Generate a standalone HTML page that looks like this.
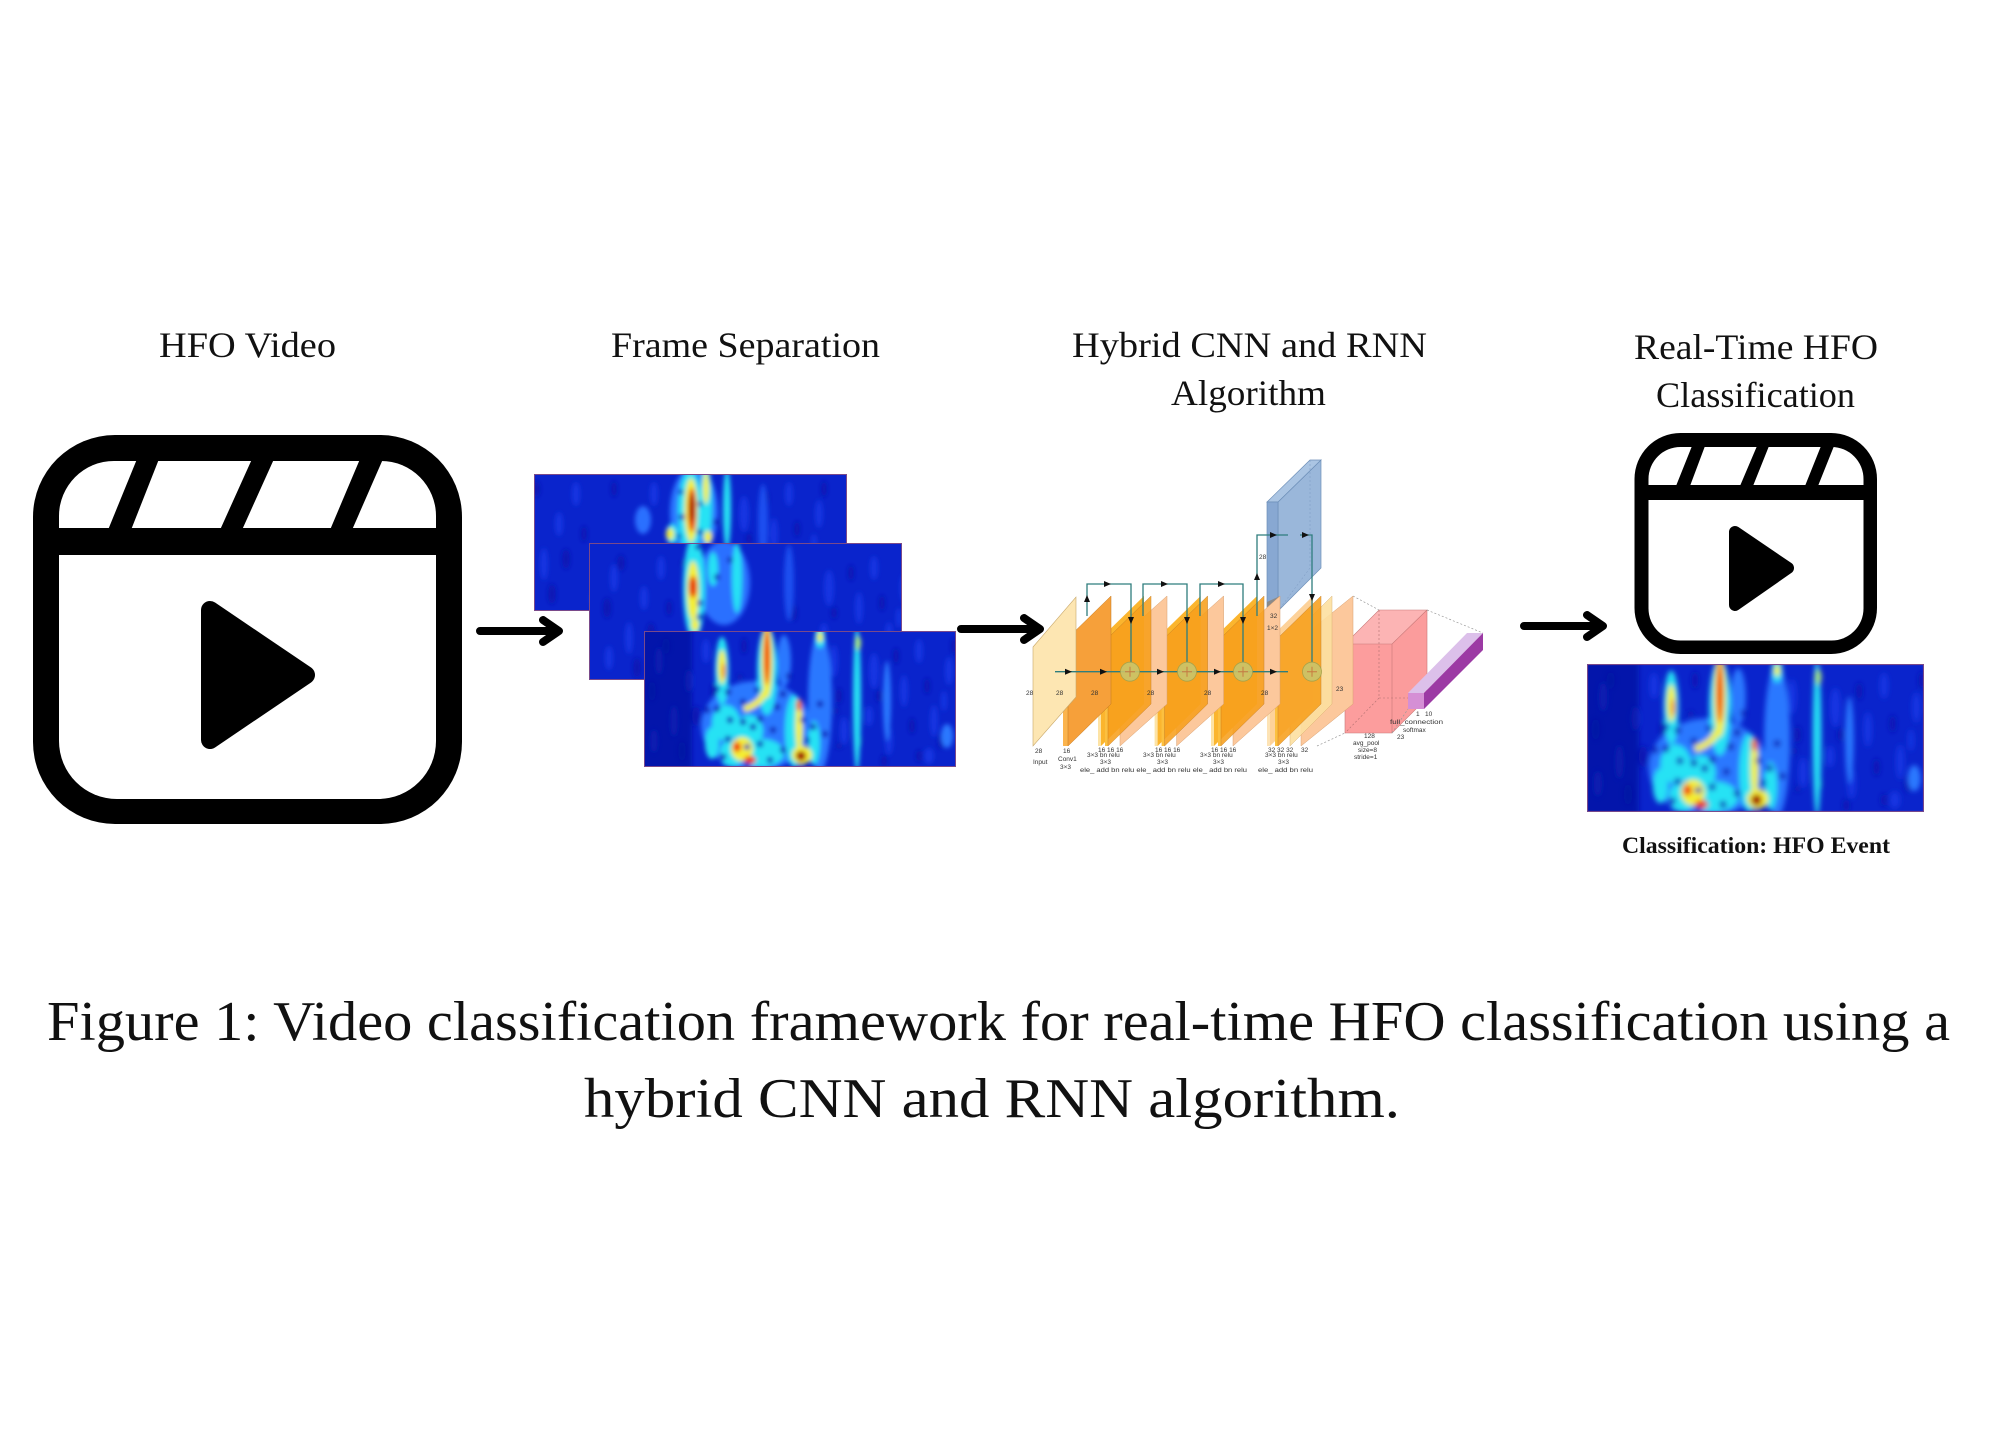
<!DOCTYPE html>
<html><head><meta charset="utf-8">
<style>html,body{margin:0;padding:0;background:#fff}svg{display:block}
.serif{font-family:"Liberation Serif",serif}
.sans{font-family:"Liberation Sans",sans-serif}
</style>
</head><body>
<svg width="2000" height="1454" viewBox="0 0 2000 1454" xmlns="http://www.w3.org/2000/svg" xmlns:xlink="http://www.w3.org/1999/xlink">
<defs>
  <filter id="bl" x="-20%" y="-20%" width="140%" height="140%"><feGaussianBlur stdDeviation="2.4"/></filter>
  <clipPath id="c3"><rect x="0" y="0" width="312" height="136"/></clipPath>
  <g id="tex">
    <g fill="#1436e2">
      <ellipse cx="15" cy="30" rx="4" ry="14"/><ellipse cx="30" cy="90" rx="4" ry="16"/><ellipse cx="45" cy="50" rx="4" ry="12"/>
      <ellipse cx="62" cy="20" rx="4" ry="12"/><ellipse cx="190" cy="30" rx="4" ry="16"/><ellipse cx="200" cy="100" rx="4" ry="14"/>
      <ellipse cx="230" cy="40" rx="5" ry="18"/><ellipse cx="245" cy="110" rx="4" ry="14"/><ellipse cx="260" cy="60" rx="4" ry="16"/>
      <ellipse cx="275" cy="20" rx="4" ry="12"/><ellipse cx="290" cy="90" rx="4" ry="16"/><ellipse cx="305" cy="40" rx="4" ry="14"/>
      <ellipse cx="10" cy="110" rx="4" ry="12"/><ellipse cx="225" cy="85" rx="4" ry="10"/><ellipse cx="285" cy="125" rx="5" ry="8"/>
      <ellipse cx="300" cy="70" rx="3" ry="10"/><ellipse cx="80" cy="125" rx="4" ry="10"/><ellipse cx="140" cy="20" rx="4" ry="12"/>
    </g>
    <g fill="#0818b4">
      <ellipse cx="8" cy="60" rx="4" ry="10"/><ellipse cx="22" cy="15" rx="4" ry="8"/><ellipse cx="38" cy="120" rx="4" ry="10"/>
      <ellipse cx="52" cy="85" rx="4" ry="10"/><ellipse cx="195" cy="65" rx="3" ry="8"/><ellipse cx="215" cy="110" rx="3" ry="6"/>
      <ellipse cx="235" cy="65" rx="3" ry="6"/><ellipse cx="252" cy="25" rx="3" ry="8"/><ellipse cx="268" cy="95" rx="3" ry="8"/>
      <ellipse cx="283" cy="55" rx="3" ry="8"/><ellipse cx="297" cy="110" rx="3" ry="8"/><ellipse cx="310" cy="15" rx="3" ry="8"/>
      <ellipse cx="240" cy="130" rx="3" ry="6"/><ellipse cx="275" cy="125" rx="3" ry="6"/><ellipse cx="100" cy="15" rx="3" ry="8"/>
      <ellipse cx="70" cy="60" rx="3" ry="8"/>
    </g>
  </g>
  <g id="s3">
    <g clip-path="url(#c3)">
      <rect width="312" height="136" fill="#0a24cc"/>
      <g filter="url(#bl)">
        <use xlink:href="#tex" href="#tex"/>
        <rect x="-10" y="-10" width="58" height="160" fill="#0312a0" opacity="0.75"/>
        <g fill="#2a78ff">
          <ellipse cx="112" cy="95" rx="55" ry="45"/>
          <ellipse cx="176" cy="70" rx="12" ry="70"/>
          <ellipse cx="140" cy="30" rx="7" ry="26"/>
          <ellipse cx="303" cy="105" rx="6" ry="12"/>
          <ellipse cx="243" cy="70" rx="4" ry="40"/>
        </g>
        <g fill="#26e2f4">
          <ellipse cx="78" cy="40" rx="7" ry="34"/>
          <ellipse cx="123" cy="40" rx="10" ry="44"/>
          <ellipse cx="82" cy="92" rx="14" ry="18"/>
          <ellipse cx="105" cy="100" rx="14" ry="16"/>
          <ellipse cx="118" cy="122" rx="22" ry="14"/>
          <ellipse cx="88" cy="122" rx="12" ry="14"/>
          <ellipse cx="150" cy="100" rx="9" ry="36"/>
          <ellipse cx="170" cy="112" rx="6" ry="22"/>
          <ellipse cx="213" cy="68" rx="4" ry="72"/>
          <ellipse cx="176" cy="6" rx="5" ry="11"/>
          <ellipse cx="68" cy="112" rx="7" ry="16"/>
        </g>
        <g fill="#f4f030">
          <ellipse cx="78" cy="36" rx="4" ry="17"/>
          <ellipse cx="123" cy="30" rx="5.5" ry="37"/>
          <ellipse cx="98" cy="118" rx="11" ry="12"/>
          <ellipse cx="155" cy="95" rx="3.5" ry="27"/>
          <ellipse cx="158" cy="124" rx="10" ry="9"/>
          <ellipse cx="176" cy="6" rx="3" ry="5"/>
        </g>
        <ellipse cx="214" cy="12" rx="3" ry="7" fill="#a8f080"/>
        <path d="M122 60 Q115 74 100 78" stroke="#f4f030" stroke-width="6" fill="none"/>
        <g fill="#f03010">
          <ellipse cx="123" cy="26" rx="3" ry="28"/>
          <ellipse cx="93" cy="116" rx="4" ry="5"/>
          <ellipse cx="106" cy="129" rx="6" ry="4"/>
          <ellipse cx="155" cy="74" rx="3" ry="6" fill="#f07010"/>
          <ellipse cx="80" cy="40" rx="2" ry="8" fill="#f08010"/>
        </g>
        <ellipse cx="157" cy="125" rx="5" ry="5" fill="#a00000"/>
        <g fill="#0a1cb8">
          <circle cx="84" cy="61" r="3.2"/><circle cx="99" cy="71" r="3.2"/><circle cx="73" cy="78" r="3.2"/>
          <circle cx="86" cy="89" r="3.2"/><circle cx="99" cy="91" r="3.2"/><circle cx="109" cy="96" r="3.2"/>
          <circle cx="116" cy="88" r="3.2"/><circle cx="63" cy="79" r="3.2"/><circle cx="84" cy="108" r="3.2"/>
          <circle cx="103" cy="116" r="3"/><circle cx="116" cy="113" r="3.2"/><circle cx="129" cy="99" r="3.2"/>
          <circle cx="133" cy="76" r="3.2"/><circle cx="139" cy="63" r="3.2"/><circle cx="159" cy="89" r="3"/>
          <circle cx="169" cy="96" r="3.2"/><circle cx="181" cy="103" r="3.2"/><circle cx="163" cy="109" r="3"/>
          <circle cx="139" cy="119" r="3.2"/><circle cx="126" cy="129" r="3.2"/><circle cx="103" cy="134" r="3"/>
          <circle cx="156" cy="136" r="3"/><circle cx="79" cy="126" r="3.2"/><circle cx="176" cy="73" r="3.2"/>
          <circle cx="73" cy="58" r="3"/><circle cx="113" cy="59" r="3"/><circle cx="96" cy="46" r="3"/>
          <circle cx="192" cy="80" r="3"/><circle cx="195" cy="115" r="3"/><circle cx="145" cy="45" r="3"/>
        </g>
      </g>
    </g>
    <rect x="0.5" y="0.5" width="311" height="135" fill="none" stroke="#7a4a8a" stroke-width="1"/>
  </g>
</defs>

<!-- ===== Titles ===== -->
<g class="serif" fill="#111" font-size="36">
  <text x="159" y="357" textLength="177" lengthAdjust="spacingAndGlyphs">HFO Video</text>
  <text x="611" y="357" textLength="269" lengthAdjust="spacingAndGlyphs">Frame Separation</text>
  <text x="1072" y="357" textLength="355" lengthAdjust="spacingAndGlyphs">Hybrid CNN and RNN</text>
  <text x="1171" y="405" textLength="155" lengthAdjust="spacingAndGlyphs">Algorithm</text>
  <text x="1634" y="359" textLength="244" lengthAdjust="spacingAndGlyphs">Real-Time HFO</text>
  <text x="1656" y="407" textLength="199" lengthAdjust="spacingAndGlyphs">Classification</text>
  <text x="1622" y="853" font-size="23" font-weight="bold" textLength="268" lengthAdjust="spacingAndGlyphs">Classification: HFO Event</text>
</g>

<!-- ===== Clapper 1 ===== -->
<g>
  <rect x="33" y="435" width="429" height="389" rx="82" ry="82" fill="#000"/>
  <path d="M59 528 V516 A55 55 0 0 1 114 461 H381 A55 55 0 0 1 436 516 V528 Z" fill="#fff"/>
  <path d="M59 555 H436 V741 A58 58 0 0 1 378 799 H117 A58 58 0 0 1 59 741 Z" fill="#fff"/>
  <polygon points="137,459 159,459 131,530 108,530" fill="#000"/>
  <polygon points="252,459 274,459 242,530 220,530" fill="#000"/>
  <polygon points="360,459 383,459 352,530 330,530" fill="#000"/>
  <path d="M210 610 L306 675 L210 740 Z" fill="#000" stroke="#000" stroke-width="18" stroke-linejoin="round"/>
</g>

<!-- ===== Clapper 2 ===== -->
<g>
  <rect x="1634.5" y="433" width="242.5" height="221" rx="46" ry="46" fill="#000"/>
  <path d="M1648.5 485 V479 A32 32 0 0 1 1680.5 447 H1831.5 A32 32 0 0 1 1863.5 479 V485 Z" fill="#fff"/>
  <path d="M1648.5 500 H1863.5 V608.5 A32 32 0 0 1 1831.5 640.5 H1680.5 A32 32 0 0 1 1648.5 608.5 Z" fill="#fff"/>
  <polygon points="1692,446 1705,446 1690,486 1676,486" fill="#000"/>
  <polygon points="1757,446 1769,446 1753,486 1740,486" fill="#000"/>
  <polygon points="1821,446 1834,446 1818,486 1805,486" fill="#000"/>
  <path d="M1735 532 L1788 568 L1735 605 Z" fill="#000" stroke="#000" stroke-width="12" stroke-linejoin="round"/>
</g>

<!-- ===== Arrows ===== -->
<g stroke="#000" stroke-width="8" stroke-linecap="round" stroke-linejoin="round" fill="none">
  <path d="M480 631 H556 M543 620 L559 631 L543 642"/>
  <path d="M961 629 H1037 M1024 618 L1040 629 L1024 640"/>
  <path d="M1524 626 H1600 M1587 615 L1603 626 L1587 637"/>
</g>

<!-- ===== Frame 1 ===== -->
<g transform="translate(534,474)">
  <clipPath id="c1"><rect width="313" height="137"/></clipPath>
  <g clip-path="url(#c1)">
    <rect width="313" height="137" fill="#0a24cc"/>
    <g filter="url(#bl)">
      <use xlink:href="#tex" href="#tex" transform="translate(-20,0)"/>
      <ellipse cx="109" cy="46" rx="8" ry="14" fill="#2a70ff"/>
      <ellipse cx="229" cy="50" rx="5" ry="40" fill="#1a50f0"/>
      <ellipse cx="160" cy="38" rx="24" ry="45" fill="#2a78ff"/>
      <g fill="#26e2f4">
        <ellipse cx="156" cy="38" rx="12" ry="42"/>
        <ellipse cx="172" cy="30" rx="6" ry="40"/>
        <ellipse cx="193" cy="35" rx="4" ry="40"/>
        <ellipse cx="138" cy="60" rx="6" ry="10"/>
      </g>
      <g fill="#f4f030">
        <ellipse cx="157" cy="36" rx="6.5" ry="32"/>
        <ellipse cx="172" cy="14" rx="3" ry="16"/>
        <ellipse cx="174" cy="63" rx="4" ry="6"/>
        <ellipse cx="136" cy="60" rx="4" ry="6"/>
      </g>
      <ellipse cx="158" cy="36" rx="4" ry="22" fill="#e82010"/>
      <ellipse cx="158" cy="34" rx="2.5" ry="14" fill="#a00000"/>
      <g fill="#0a1cb8">
        <circle cx="148" cy="43" r="3"/><circle cx="166" cy="58" r="3"/><circle cx="166" cy="30" r="2.5"/>
        <circle cx="182" cy="48" r="3"/><circle cx="145" cy="62" r="2.5"/><circle cx="147" cy="18" r="2.5"/>
      </g>
    </g>
  </g>
  <rect x="0.5" y="0.5" width="312" height="136" fill="none" stroke="#7a4a8a" stroke-width="1"/>
</g>

<!-- ===== Frame 2 ===== -->
<g transform="translate(589,543)">
  <clipPath id="c2"><rect width="313" height="137"/></clipPath>
  <g clip-path="url(#c2)">
    <rect width="313" height="137" fill="#0a24cc"/>
    <g filter="url(#bl)">
      <use xlink:href="#tex" href="#tex" transform="translate(10,5)"/>
      <ellipse cx="135" cy="40" rx="26" ry="42" fill="#2a70ff"/>
      <ellipse cx="200" cy="40" rx="5" ry="38" fill="#1a50f0"/>
      <g fill="#26e2f4">
        <ellipse cx="105" cy="45" rx="11" ry="52"/>
        <ellipse cx="148" cy="35" rx="5" ry="35"/>
        <ellipse cx="124" cy="26" rx="5" ry="17"/>
      </g>
      <g fill="#f4f030">
        <ellipse cx="104" cy="48" rx="6" ry="30"/>
        <ellipse cx="106" cy="82" rx="4" ry="6"/>
      </g>
      <ellipse cx="104" cy="44" rx="4" ry="11" fill="#e83010"/>
      <g fill="#0a1cb8">
        <circle cx="109" cy="4" r="3"/><circle cx="111" cy="60" r="3"/><circle cx="111" cy="74" r="3"/>
        <circle cx="128" cy="34" r="3"/><circle cx="141" cy="17" r="3"/><circle cx="94" cy="20" r="2.5"/>
      </g>
    </g>
  </g>
  <rect x="0.5" y="0.5" width="312" height="136" fill="none" stroke="#7a4a8a" stroke-width="1"/>
</g>

<!-- ===== Frame 3 ===== -->
<use xlink:href="#s3" href="#s3" transform="translate(644,631)"/>

<!-- ===== Classification spectrogram ===== -->
<use xlink:href="#s3" href="#s3" transform="translate(1587,664) scale(1.0801,1.088)"/>

<!-- ===== CNN diagram ===== -->
<g>
  <polygon points="1345,644 1379,610 1427,610 1392,644" fill="#fcb4b4"/>
  <polygon points="1392,644 1427,610 1427,698 1392,733" fill="#fb9c9c"/>
  <rect x="1345" y="644" width="47" height="89" fill="#fc9d9d"/>
  <rect x="1345" y="644" width="8" height="60" fill="#f8565f"/>
  <path d="M1379 610 V698 L1345 733 M1379 698 H1427" stroke="#b07070" stroke-width="0.6" stroke-dasharray="2,2" fill="none"/>
  <path d="M1345 644 H1392 V733 H1345 Z M1345 644 L1379 610 H1427 L1392 644 M1427 610 V698 L1392 733" stroke="#c87878" stroke-width="0.6" fill="none"/>

  <polygon points="1408,693 1467,633 1483,633 1424,693" fill="#dcc0ea"/>
  <polygon points="1424,693 1483,633 1483,650 1424,709" fill="#9c3aa4"/>
  <rect x="1408" y="693" width="16" height="16" fill="#d58fd5"/>

  <g stroke="#999" stroke-width="0.7" stroke-dasharray="2,2" fill="none">
    <path d="M1353 596 L1379 610"/>
    <path d="M1317 638 L1345 644"/>
    <path d="M1317 746 L1345 733"/>
    <path d="M1427 610 L1483 633"/>
    <path d="M1392 733 L1408 709"/>
  </g>

  <polygon points="1278,502 1321,460 1321,568 1278,611" fill="#9ab7da" stroke="#6d8fb8" stroke-width="0.7"/>
  <polygon points="1267,502 1310,460 1321,460 1278,502" fill="#abc5e3" stroke="#6d8fb8" stroke-width="0.7"/>
  <rect x="1267" y="502" width="11" height="109" fill="#88a8d2" stroke="#6d8fb8" stroke-width="0.7"/>
  <polygon points="1267,602 1280,596 1280,611 1267,611" fill="#8a8a8a"/>
  <path d="M1310 460 V568 L1278 611" stroke="#7a98c0" stroke-width="0.5" stroke-dasharray="2,2" fill="none"/>

  <polygon points="1301,638 1353,596 1353,704 1301,746" fill="#fcc89c" stroke="#d8a070" stroke-width="0.5"/>
  <polygon points="1290,638 1332,596 1332,704 1290,746" fill="#fde0a0" opacity="0.9" stroke="#d8b070" stroke-width="0.5"/>
  <rect x="1267" y="638" width="3" height="108" fill="#fde3b5"/>
  <polygon points="1270,638 1313,596 1313,704 1270,746" fill="#fdd29a"/>
  <rect x="1275" y="638" width="3" height="108" fill="#fcc040"/>
  <polygon points="1278,638 1321,596 1321,704 1278,746" fill="#f8a01c" opacity="0.88" stroke="#c07820" stroke-width="0.5"/>

  <g transform="translate(113,0)">
    <polygon points="1120,638 1167,596 1167,704 1120,746" fill="#fcc89c" stroke="#d8a070" stroke-width="0.5"/>
    <rect x="1098" y="638" width="3" height="108" fill="#fde3a5"/>
    <polygon points="1101,638 1144,596 1144,704 1101,746" fill="#fbb52e"/>
    <rect x="1105" y="638" width="3" height="108" fill="#fcc040"/>
    <polygon points="1108,638 1151,596 1151,704 1108,746" fill="#f8a01c" opacity="0.88" stroke="#c07820" stroke-width="0.5"/>
  </g>
  <g transform="translate(56.6,0)">
    <polygon points="1120,638 1167,596 1167,704 1120,746" fill="#fcc89c" stroke="#d8a070" stroke-width="0.5"/>
    <rect x="1098" y="638" width="3" height="108" fill="#fde3a5"/>
    <polygon points="1101,638 1144,596 1144,704 1101,746" fill="#fbb52e"/>
    <rect x="1105" y="638" width="3" height="108" fill="#fcc040"/>
    <polygon points="1108,638 1151,596 1151,704 1108,746" fill="#f8a01c" opacity="0.88" stroke="#c07820" stroke-width="0.5"/>
  </g>
  <g>
    <polygon points="1120,638 1167,596 1167,704 1120,746" fill="#fcc89c" stroke="#d8a070" stroke-width="0.5"/>
    <rect x="1098" y="638" width="3" height="108" fill="#fde3a5"/>
    <polygon points="1101,638 1144,596 1144,704 1101,746" fill="#fbb52e"/>
    <rect x="1105" y="638" width="3" height="108" fill="#fcc040"/>
    <polygon points="1108,638 1151,596 1151,704 1108,746" fill="#f8a01c" opacity="0.88" stroke="#c07820" stroke-width="0.5"/>
  </g>
  <rect x="1063" y="638" width="5" height="108" fill="#fbb44e"/>
  <polygon points="1068,638 1111,596 1111,704 1068,746" fill="#f6a03a" stroke="#c07820" stroke-width="0.5"/>
  <polygon points="1033,647 1076,597 1076,697 1033,746" fill="#fde6b2" stroke="#c9a86a" stroke-width="0.6"/>

  <g stroke="#2e7d7d" stroke-width="1.3" fill="none">
    <path d="M1055 671.7 H1288"/>
    <path d="M1087 616 V584 H1131 V662"/>
    <path d="M1143 616 V584 H1187 V662"/>
    <path d="M1200 616 V584 H1243 V662"/>
    <path d="M1257 616 V535 H1288"/>
    <path d="M1300 535 H1312 V662"/>
  </g>
  <g fill="#111">
    <polygon points="1084,602 1087,595 1090,602"/>
    <polygon points="1254,580 1257,573 1260,580"/>
    <polygon points="1104,581 1111,584 1104,587"/>
    <polygon points="1161,581 1168,584 1161,587"/>
    <polygon points="1218,581 1225,584 1218,587"/>
    <polygon points="1270,532 1277,535 1270,538"/>
    <polygon points="1302,532 1309,535 1302,538"/>
    <polygon points="1128,617 1131,624 1134,617"/>
    <polygon points="1184,617 1187,624 1190,617"/>
    <polygon points="1240,617 1243,624 1246,617"/>
    <polygon points="1309,594 1312,601 1315,594"/>
    <polygon points="1065,668.7 1072,671.7 1065,674.7"/>
    <polygon points="1100,668.7 1107,671.7 1100,674.7"/>
    <polygon points="1157,668.7 1164,671.7 1157,674.7"/>
    <polygon points="1214,668.7 1221,671.7 1214,674.7"/>
    <polygon points="1270,668.7 1277,671.7 1270,674.7"/>
  </g>
  <g>
    <g fill="#c9c46a" fill-opacity="0.9" stroke="#a6a24a" stroke-width="0.8">
      <circle cx="1130" cy="671.7" r="9.5"/>
      <circle cx="1187" cy="671.7" r="9.5"/>
      <circle cx="1243" cy="671.7" r="9.5"/>
      <circle cx="1312" cy="671.7" r="9.5"/>
    </g>
    <g stroke="#c87a40" stroke-width="1">
      <path d="M1125 671.7 H1135 M1130 666.7 V676.7"/>
      <path d="M1182 671.7 H1192 M1187 666.7 V676.7"/>
      <path d="M1238 671.7 H1248 M1243 666.7 V676.7"/>
      <path d="M1307 671.7 H1317 M1312 666.7 V676.7"/>
    </g>
  </g>

  <g class="sans" font-size="6.5" fill="#333">
    <text x="1026" y="695">28</text>
    <text x="1056" y="695">28</text>
    <text x="1091" y="695">28</text>
    <text x="1147" y="695">28</text>
    <text x="1204" y="695">28</text>
    <text x="1261" y="695">28</text>
    <text x="1336" y="691">23</text>
    <text x="1259" y="559">28</text>
    <text x="1270" y="618">32</text>
    <text x="1267" y="630">1×2</text>
    <text x="1035" y="753">28</text>
    <text x="1063" y="753">16</text>
    <text x="1098" y="752">16 16 16</text>
    <text x="1155" y="752">16 16 16</text>
    <text x="1211" y="752">16 16 16</text>
    <text x="1268" y="752">32  32  32</text>
    <text x="1301" y="752">32</text>
    <text x="1033" y="764">Input</text>
    <text x="1058" y="761">Conv1</text>
    <text x="1060" y="769">3×3</text>
    <text x="1087" y="757">3×3 bn relu</text>
    <text x="1143" y="757">3×3 bn relu</text>
    <text x="1200" y="757">3×3 bn relu</text>
    <text x="1265" y="757">3×3 bn relu</text>
    <text x="1100" y="764">3×3</text>
    <text x="1157" y="764">3×3</text>
    <text x="1213" y="764">3×3</text>
    <text x="1278" y="764">3×3</text>
    <text x="1080" y="772" textLength="167" lengthAdjust="spacingAndGlyphs">ele_ add bn relu ele_ add bn relu ele_ add bn relu</text>
    <text x="1258" y="772" textLength="55" lengthAdjust="spacingAndGlyphs">ele_ add bn relu</text>
    <text x="1364" y="738">128</text>
    <text x="1353" y="745">avg_pool</text>
    <text x="1358" y="752">size=8</text>
    <text x="1354" y="759">stride=1</text>
    <text x="1397" y="739">23</text>
    <text x="1416" y="716">1</text>
    <text x="1425" y="716">10</text>
    <text x="1390" y="724" textLength="53" lengthAdjust="spacingAndGlyphs">full_connection</text>
    <text x="1403" y="732">softmax</text>
  </g>
</g>

<!-- ===== Caption ===== -->
<g class="serif" fill="#111" font-size="56">
  <text x="47" y="1040" textLength="1903" lengthAdjust="spacingAndGlyphs">Figure 1: Video classification framework for real-time HFO classification using a</text>
  <text x="584" y="1117" textLength="816" lengthAdjust="spacingAndGlyphs">hybrid CNN and RNN algorithm.</text>
</g>
</svg>
</body></html>
